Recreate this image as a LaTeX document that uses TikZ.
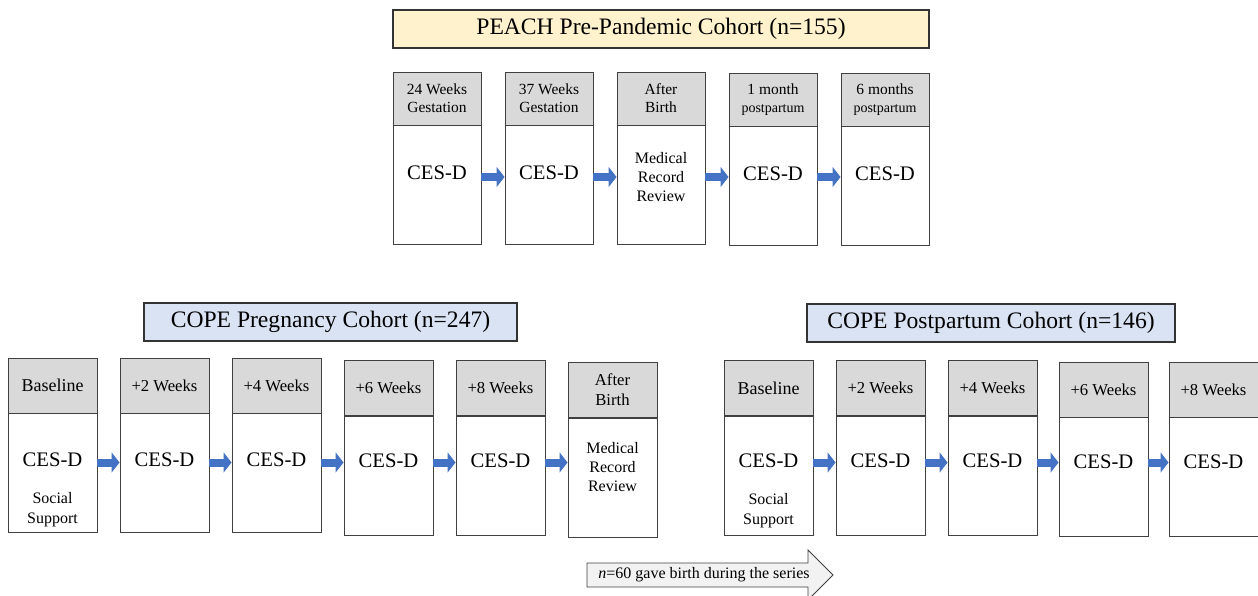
\documentclass[tikz,border=0pt]{standalone}
\usepackage{fontspec}
\setmainfont{Liberation Serif}
\usepackage{tikz}
\usetikzlibrary{positioning,arrows.meta}

\definecolor{peachfill}{HTML}{FFF2CC}
\definecolor{copefill}{HTML}{DAE3F3}
\definecolor{headfill}{HTML}{D9D9D9}
\definecolor{flowblue}{HTML}{4472C4}
\definecolor{notefill}{HTML}{F2F2F2}

\tikzset{
  cohort/.style={draw=black!80, line width=0.9pt, minimum height=28.5pt, inner sep=0pt,
    font=\fontsize{17.7}{21}\selectfont},
  hdr/.style={draw=black!75, fill=headfill, line width=0.7pt, inner sep=0pt, align=center},
  tophdr/.style={hdr, minimum width=66pt, minimum height=39.75pt, font=\fontsize{11.6}{13.5}\selectfont},
  lowhdr/.style={hdr, minimum width=66.75pt, minimum height=41.25pt, font=\fontsize{12.5}{15}\selectfont},
  bodybox/.style={draw=black!75, fill=white, line width=0.7pt, inner sep=0pt, minimum height=89.25pt},
  cesd/.style={font=\fontsize{15.5}{18}\selectfont},
  medtxt/.style={align=center, font=\fontsize{12}{14.5}\selectfont},
  suptxt/.style={align=center, font=\fontsize{12}{15}\selectfont},
  notetxt/.style={font=\fontsize{12}{14}\selectfont},
  flow/.style={flowblue, line width=6pt, -{Triangle[length=6pt,width=15pt]}}
}

\begin{document}
\begin{tikzpicture}[x=0.75pt,y=-0.75pt]
  \useasboundingbox (0,0) rectangle (1258,596);
  \coordinate (toprow) at (0,177);
  \coordinate (lowrow) at (0,462.5);

  % PEACH pre-pandemic cohort, top row
  \node[cohort, fill=peachfill, minimum width=402pt] (peach) at (661,29) {PEACH Pre-Pandemic Cohort (n=155)};
  \node[tophdr] (pa1h) at (437,98.5) {24 Weeks\\Gestation};
  \node[bodybox, minimum width=66pt, below=0pt of pa1h] (pa1) {};
  \node[cesd] (pa1t) at (437,172.5) {CES-D};
  \node[tophdr] (pa2h) at (549,98.5) {37 Weeks\\Gestation};
  \node[bodybox, minimum width=66pt, below=0pt of pa2h] (pa2) {};
  \node[cesd] (pa2t) at (549,172.5) {CES-D};
  \node[tophdr] (pa3h) at (661,98.5) {After\\Birth};
  \node[bodybox, minimum width=66pt, below=0pt of pa3h] (pa3) {};
  \node[medtxt] (pa3t) at (661,177) {Medical\\Record\\Review};
  \node[tophdr] (pa4h) at (773,99.5) {1 month\\{\fontsize{10.5}{13}\selectfont postpartum}};
  \node[bodybox, minimum width=66pt, below=0pt of pa4h] (pa4) {};
  \node[cesd] (pa4t) at (773,173.5) {CES-D};
  \node[tophdr] (pa5h) at (885,99.5) {6 months\\{\fontsize{10.5}{13}\selectfont postpartum}};
  \node[bodybox, minimum width=66pt, below=0pt of pa5h] (pa5) {};
  \node[cesd] (pa5t) at (885,173.5) {CES-D};
  \draw[flow] (pa1.east |- toprow) -- (pa2.west |- toprow);
  \draw[flow] (pa2.east |- toprow) -- (pa3.west |- toprow);
  \draw[flow] (pa3.east |- toprow) -- (pa4.west |- toprow);
  \draw[flow] (pa4.east |- toprow) -- (pa5.west |- toprow);

  % COPE pregnancy cohort, lower left
  \node[cohort, fill=copefill, minimum width=279.75pt] (cope1) at (330.5,322) {COPE Pregnancy Cohort (n=247)};
  \node[lowhdr, font=\fontsize{13.5}{16}\selectfont] (cp1h) at (52.5,385.5) {Baseline};
  \node[bodybox, minimum width=66.75pt, below=0pt of cp1h] (cp1) {};
  \node[cesd] (cp1t) at (52.5,460) {CES-D};
  \node[suptxt] (cp1s) at (52.5,510) {Social\\Support};
  \node[lowhdr] (cp2h) at (164.5,385.5) {+2 Weeks};
  \node[bodybox, minimum width=66.75pt, below=0pt of cp2h] (cp2) {};
  \node[cesd] (cp2t) at (164.5,460) {CES-D};
  \node[lowhdr] (cp3h) at (276.5,385.5) {+4 Weeks};
  \node[bodybox, minimum width=66.75pt, below=0pt of cp3h] (cp3) {};
  \node[cesd] (cp3t) at (276.5,460) {CES-D};
  \node[lowhdr] (cp4h) at (388.5,388) {+6 Weeks};
  \node[bodybox, minimum width=66.75pt, below=0pt of cp4h] (cp4) {};
  \node[cesd] (cp4t) at (388.5,461) {CES-D};
  \node[lowhdr] (cp5h) at (500.5,388) {+8 Weeks};
  \node[bodybox, minimum width=66.75pt, below=0pt of cp5h] (cp5) {};
  \node[cesd] (cp5t) at (500.5,461) {CES-D};
  \node[lowhdr] (cp6h) at (612.5,390) {After\\Birth};
  \node[bodybox, minimum width=66.75pt, below=0pt of cp6h] (cp6) {};
  \node[medtxt] (cp6t) at (612.5,467) {Medical\\Record\\Review};
  \draw[flow] (cp1.east |- lowrow) -- (cp2.west |- lowrow);
  \draw[flow] (cp2.east |- lowrow) -- (cp3.west |- lowrow);
  \draw[flow] (cp3.east |- lowrow) -- (cp4.west |- lowrow);
  \draw[flow] (cp4.east |- lowrow) -- (cp5.west |- lowrow);
  \draw[flow] (cp5.east |- lowrow) -- (cp6.west |- lowrow);

  % COPE postpartum cohort, lower right
  \node[cohort, fill=copefill, minimum width=276pt] (cope2) at (991,323) {COPE Postpartum Cohort (n=146)};
  \node[lowhdr, font=\fontsize{13.5}{16}\selectfont] (pp1h) at (768.5,388) {Baseline};
  \node[bodybox, minimum width=66.75pt, below=0pt of pp1h] (pp1) {};
  \node[cesd] (pp1t) at (768.5,461) {CES-D};
  \node[suptxt] (pp1s) at (768.5,511) {Social\\Support};
  \node[lowhdr] (pp2h) at (880.5,388) {+2 Weeks};
  \node[bodybox, minimum width=66.75pt, below=0pt of pp2h] (pp2) {};
  \node[cesd] (pp2t) at (880.5,461) {CES-D};
  \node[lowhdr] (pp3h) at (992.5,388) {+4 Weeks};
  \node[bodybox, minimum width=66.75pt, below=0pt of pp3h] (pp3) {};
  \node[cesd] (pp3t) at (992.5,461) {CES-D};
  \node[lowhdr] (pp4h) at (1103.5,389.5) {+6 Weeks};
  \node[bodybox, minimum width=66.75pt, below=0pt of pp4h] (pp4) {};
  \node[cesd] (pp4t) at (1103.5,462) {CES-D};
  \node[lowhdr] (pp5h) at (1213.5,389.5) {+8 Weeks};
  \node[bodybox, minimum width=66.75pt, below=0pt of pp5h] (pp5) {};
  \node[cesd] (pp5t) at (1213.5,462) {CES-D};
  \draw[flow] (pp1.east |- lowrow) -- (pp2.west |- lowrow);
  \draw[flow] (pp2.east |- lowrow) -- (pp3.west |- lowrow);
  \draw[flow] (pp3.east |- lowrow) -- (pp4.west |- lowrow);
  \draw[flow] (pp4.east |- lowrow) -- (pp5.west |- lowrow);

  % note arrow at the bottom
  \draw[draw=black!75, fill=notefill, line width=0.7pt] (587,563) -- (808,563) -- (808,550) -- (833,575)
    -- (808,600) -- (808,587) -- (587,587) -- cycle;
  \node[notetxt] (note) at (704,575) {\textit{n}=60 gave birth during the series};
\end{tikzpicture}
\end{document}
